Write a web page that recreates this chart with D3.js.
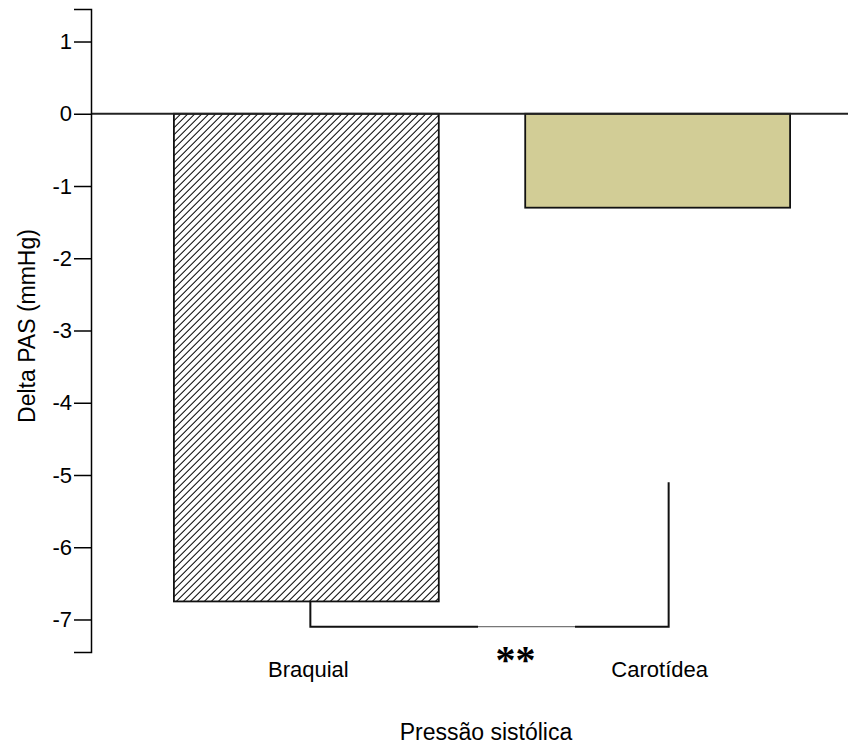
<!DOCTYPE html>
<html>
<head>
<meta charset="utf-8">
<script src="https://cdn.jsdelivr.net/npm/d3@7"></script>
<style>
  html, body { margin: 0; padding: 0; background: #fff; }
  svg { display: block; font-family: "Liberation Sans", Arial, sans-serif; }
</style>
</head>
<body>
<svg id="chart" width="863" height="745"></svg>
<script>
// Mean change in systolic pressure per measurement site
const categories = ["Braquial", "Carotídea"];
const values = [-6.75, -1.3];
const yTicks = [1, 0, -1, -2, -3, -4, -5, -6, -7];
const yTitle = "Delta PAS (mmHg)";
const xTitle = "Pressão sistólica";
// Significance bracket: left foot, right foot, bar level, label
const bracketLeftTop = -6.75;
const bracketRightTop = -5.1;
const bracketLevel = -7.1;
const significance = "**";

const svg = d3.select("#chart");

const y = d3.scaleLinear().domain([-7.45, 1.45]).range([652, 9]);
const x = d3.scaleBand().domain(categories).range([91, 873])
  .paddingInner(0.246).paddingOuter(0.236);

const defs = svg.append("defs");
defs.append("pattern")
  .attr("id", "hatch")
  .attr("patternUnits", "userSpaceOnUse")
  .attr("width", 4.95).attr("height", 10)
  .attr("patternTransform", "rotate(45)")
  .append("line")
  .attr("x1", 0.8).attr("y1", 0).attr("x2", 0.8).attr("y2", 10)
  .attr("stroke", "#000").attr("stroke-width", 1.15)
  .attr("shape-rendering", "crispEdges");

// bars
svg.append("g").selectAll("rect")
  .data(categories)
  .join("rect")
  .attr("x", d => x(d))
  .attr("width", x.bandwidth())
  .attr("y", y(0))
  .attr("height", (d, i) => y(values[i]) - y(0))
  .attr("fill", (d, i) => i === 0 ? "url(#hatch)" : "#d2cd96")
  .attr("stroke", "#111")
  .attr("stroke-width", 1.8);

// zero reference line
svg.append("line")
  .attr("x1", 91).attr("x2", 848)
  .attr("y1", y(0)).attr("y2", y(0))
  .attr("stroke", "#222").attr("stroke-width", 1.8);

// y axis
const yAxis = d3.axisLeft(y).tickValues(yTicks).tickSize(17).tickPadding(2)
  .tickFormat(d3.format("d"));
const gy = svg.append("g").attr("transform", "translate(91,0)").call(yAxis);
gy.select(".domain").attr("stroke", "#000").attr("stroke-width", 1.5);
gy.selectAll(".tick line").attr("stroke", "#000").attr("stroke-width", 1.5);
gy.selectAll(".tick text")
  .attr("font-size", 22).attr("fill", "#000")
  .attr("font-family", "Liberation Sans, Arial, sans-serif")
  .text(d => d < 0 ? "-" + Math.abs(d) : String(d));

// category labels
svg.append("g").selectAll("text")
  .data(categories)
  .join("text")
  .attr("x", d => x(d) + x.bandwidth() / 2 + 2)
  .attr("y", 677)
  .attr("text-anchor", "middle")
  .attr("font-size", 22)
  .text(d => d);

// significance bracket
const xl = x(categories[0]) + x.bandwidth() / 2 + 4;
const xr = x(categories[1]) + x.bandwidth() / 2 + 11;
const gapL = 478, gapR = 575;
const br = svg.append("g").attr("fill", "none");
br.append("path")
  .attr("d", `M${xl},${y(bracketLeftTop)}V${y(bracketLevel)}H${gapL}`)
  .attr("stroke", "#111").attr("stroke-width", 2);
br.append("path")
  .attr("d", `M${gapR},${y(bracketLevel)}H${xr}V${y(bracketRightTop)}`)
  .attr("stroke", "#111").attr("stroke-width", 2);
br.append("line")
  .attr("x1", gapL).attr("x2", gapR)
  .attr("y1", y(bracketLevel)).attr("y2", y(bracketLevel))
  .attr("stroke", "#555").attr("stroke-width", 1);
svg.append("text")
  .attr("x", (gapL + gapR) / 2 - 11)
  .attr("y", 673)
  .attr("text-anchor", "middle")
  .attr("font-family", "Liberation Serif, Times New Roman, serif")
  .attr("font-weight", "bold")
  .attr("font-size", 40)
  .text(significance);

// axis titles
svg.append("text")
  .attr("x", 486).attr("y", 740)
  .attr("text-anchor", "middle")
  .attr("font-size", 23)
  .text(xTitle);
svg.append("text")
  .attr("transform", "translate(35,326) rotate(-90)")
  .attr("text-anchor", "middle")
  .attr("font-size", 23)
  .text(yTitle);
</script>
</body>
</html>
